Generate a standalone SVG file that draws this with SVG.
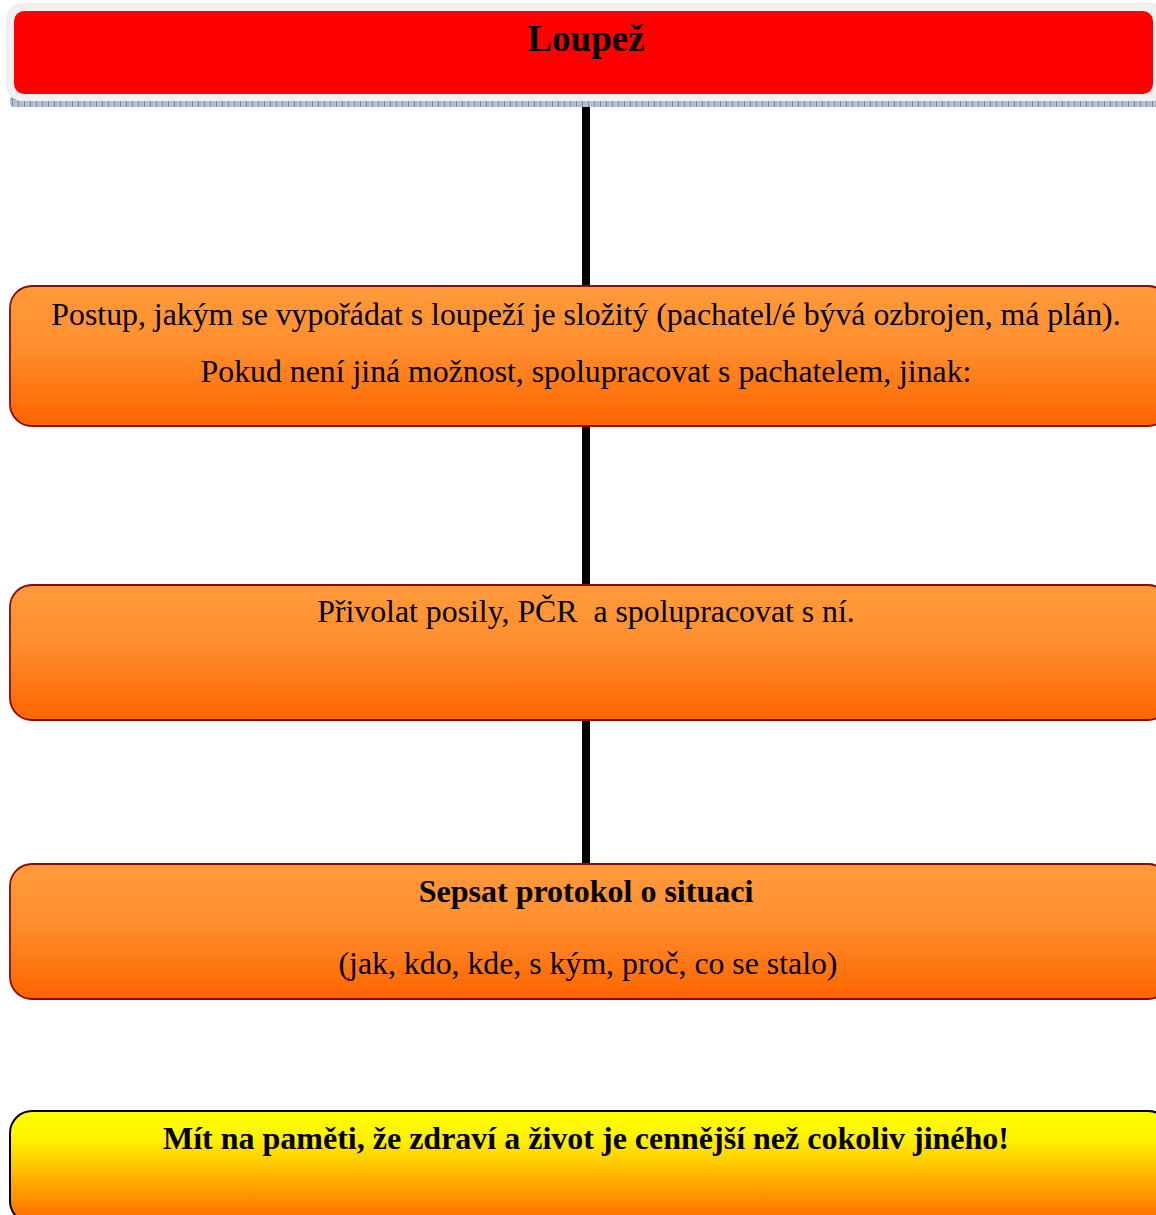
<svg xmlns="http://www.w3.org/2000/svg" width="1156" height="1215" viewBox="0 0 1156 1215">
<defs>
<linearGradient id="gOrange" x1="0" y1="0" x2="0" y2="1">
<stop offset="0" stop-color="#ff9a3a"/>
<stop offset="0.4" stop-color="#ff9030"/>
<stop offset="1" stop-color="#ff6400"/>
</linearGradient>
<linearGradient id="gYellow" x1="0" y1="0" x2="0" y2="1">
<stop offset="0" stop-color="#ffff00"/>
<stop offset="0.25" stop-color="#fff200"/>
<stop offset="1" stop-color="#ff6600"/>
</linearGradient>
<pattern id="hatch" width="6" height="8" patternUnits="userSpaceOnUse">
<rect width="6" height="8" fill="#b4c0d2"/>
<rect x="0" y="0" width="1" height="8" fill="#7c8aa4"/>
<rect x="0" y="3" width="6" height="1" fill="#94a2b8"/>
</pattern>
</defs>
<style>
.txt{font-family:"Liberation Serif","Times New Roman",serif;fill:#000;text-anchor:middle}
.reg{font-size:31.8px}
.bold{font-size:32px;font-weight:bold}
.obox{fill:url(#gOrange);stroke:#8b0a0a;stroke-width:1.8}
.conn{stroke:#000;stroke-width:8;fill:none}
</style>
<rect width="1156" height="1215" fill="#fff"/>
<g id="connectors">
<line class="conn" x1="586" y1="100" x2="586" y2="287"/>
<line class="conn" x1="586" y1="426" x2="586" y2="586"/>
<line class="conn" x1="586" y1="720" x2="586" y2="865"/>
</g>
<g id="node-loupez">
<rect x="10" y="96" width="1150" height="11" rx="4" fill="url(#hatch)"/>
<rect x="6" y="3" width="1162" height="98" rx="16" fill="#f0f0f0"/>
<rect x="14" y="11" width="1139" height="83" rx="10" fill="#ff0000"/>
<text class="txt" x="586" y="51" style="font-size:37px;font-weight:bold">Loupež</text>
</g>
<g id="node-postup">
<rect class="obox" x="10" y="286" width="1160" height="140" rx="22"/>
<text class="txt reg" x="586" y="325">Postup, jakým se vypořádat s loupeží je složitý (pachatel/é bývá ozbrojen, má plán).</text>
<text class="txt reg" x="586" y="382">Pokud není jiná možnost, spolupracovat s pachatelem, jinak:</text>
</g>
<g id="node-privolat">
<rect class="obox" x="10" y="585" width="1160" height="135" rx="22"/>
<text class="txt reg" x="586" y="622" xml:space="preserve">Přivolat posily, PČR  a spolupracovat s ní.</text>
</g>
<g id="node-sepsat">
<rect class="obox" x="10" y="864" width="1160" height="135" rx="22"/>
<text class="txt bold" x="586" y="902">Sepsat protokol o situaci</text>
<text class="txt reg" x="588" y="974">(jak, kdo, kde, s kým, proč, co se stalo)</text>
</g>
<g id="node-mit">
<rect x="10" y="1111" width="1160" height="112" rx="22" fill="url(#gYellow)" stroke="#000" stroke-width="2"/>
<text class="txt bold" x="586" y="1149">Mít na paměti, že zdraví a život je cennější než cokoliv jiného!</text>
</g>
</svg>
